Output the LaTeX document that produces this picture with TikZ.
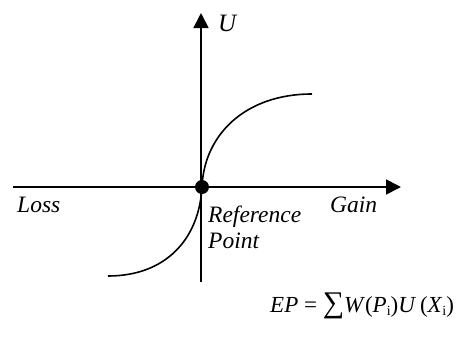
\documentclass[tikz,border=0pt]{standalone}
\usepackage{fontspec}
\setmainfont{Liberation Serif}
\usetikzlibrary{arrows.meta}
\begin{document}
\begin{tikzpicture}[x=1pt,y=-1pt,
  axis/.style={line width=1.7pt,-{Triangle[length=15pt,width=15pt]}},
  curve/.style={line width=1.6pt},
  lbl/.style={font=\fontsize{23.5}{26}\selectfont\itshape,inner sep=0pt,anchor=base west},
  refdot/.style={circle,fill=black,minimum size=14pt,inner sep=0pt}]
\useasboundingbox (0,0) rectangle (464,338);
\coordinate (xl) at (13,187);
\coordinate (xr) at (401,187);
\coordinate (yb) at (201,282);
\coordinate (yt) at (201,13);
\coordinate (ctop) at (312,94);
\coordinate (cbot) at (108,276);
\draw[axis] (xl) -- (xr);
\draw[axis] (yb) -- (yt);
\node[refdot] (o) at (202,187) {};
\draw[curve] (o.center) .. controls (204,135) and (245,94) .. (ctop);
\draw[curve] (o.center) .. controls (199,240) and (165,276) .. (cbot);
\node[lbl,font=\fontsize{25}{28}\selectfont\itshape] (u) at (218,31) {U};
\node[lbl] (loss) at (17,212) {Loss};
\node[lbl] (gain) at (330,212) {Gain};
\node[lbl] (ref) at (208,222) {Reference};
\node[lbl] (pt) at (208,248) {Point};
\node[lbl,font=\fontsize{23}{26}\selectfont] (ep) at (270,312) {\textit{EP} = {\fontsize{30}{30}\selectfont ∑}\textit{W}(\textit{P}\raisebox{-0.3ex}{\fontsize{14}{14}\selectfont i})\textit{U}\,(\textit{X}\raisebox{-0.3ex}{\fontsize{14}{14}\selectfont i})};
\end{tikzpicture}
\end{document}
